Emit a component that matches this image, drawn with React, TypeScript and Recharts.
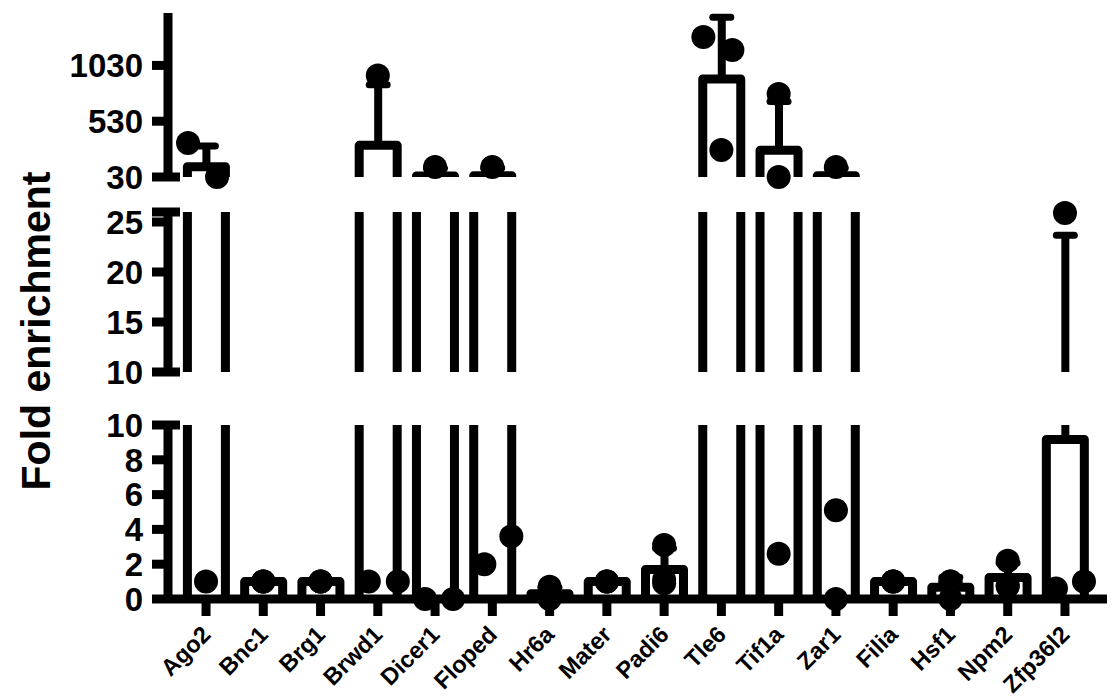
import React from 'react';
import { ComposedChart, Bar, Scatter, XAxis, YAxis } from 'recharts';

// ---------- data ----------
const CATEGORIES = ['Ago2', 'Bnc1', 'Brg1', 'Brwd1', 'Dicer1', 'Floped', 'Hr6a', 'Mater', 'Padi6', 'Tle6', 'Tif1a', 'Zar1', 'Filia', 'Hsf1', 'Npm2', 'Zfp36l2'];
const MEAN = [122, 1, 1, 314, 40, 41.9, 0.3, 1, 1.7, 908, 269, 41.7, 1, 0.67, 1.23, 9.17];
const SD = [185, 0, 0, 542, 69, 67.7, 0.36, 0, 1.22, 554, 438, 67.9, 0, 0.58, 0.84, 14.5];
const REP_1 = [1, 1, 1, 1, 0, 2, 0, 1, 0.9, 272, 2.6, 0, 1, 0, 0.75, 0.6];
const REP_2 = [30, 1, 1, 1, 0, 3.6, 0.2, 1, 1.1, 1168, 30, 5.1, 1, 1, 0.75, 1.0];
const REP_3 = [335, 1, 1, 940, 120, 120, 0.7, 1, 3.1, 1284, 774, 120, 1, 1, 2.2, 25.9];

const TOP_TICKS = [30, 530, 1030];
const MID_TICKS = [10, 15, 20, 25, 26];
const LOW_TICKS = [0, 2, 4, 6, 8, 10];

// ---------- style constants ----------
// horizontal pixel nudges of the replicate dots (scatter spread as in the original)
const NUDGE_1 = [0, 0, 0, -9, -10, -8, 0, 0, 0, 0, 0, 0, 0, 0, 0, -9];
const NUDGE_2 = [11, 0, 0, 20, 18, 19, 0, 0, 0, 11, 0, 0, 0, 0, 0, 19];
const NUDGE_3 = [-18, 0, 0, 0, 0, 0, 0, 0, 0, -18, 0, 0, 0, 0, 0, 0];
const NUDGES = [NUDGE_1, NUDGE_2, NUDGE_3];

const FONT = 'Liberation Sans, Arial, Helvetica, sans-serif';
const INK = '#000';
const CHART_W = 1112;
const M_LEFT = 8;
const M_RIGHT = 5;
const Y_W = 160;

type Seg = {
  key: string;
  top: number;
  height: number;
  marginTop: number;
  marginBottom: number;
  xHeight: number;
  domain: [number, number];
  ticks: number[];
  caps: number[];
  noLabel: number[];
  showX: boolean;
  inSeg: (v: number) => boolean;
};

const SEGMENTS: Seg[] = [
  { key: 'top', top: 0, height: 200, marginTop: 13, marginBottom: 23, xHeight: 0, domain: [30, 1500], ticks: TOP_TICKS, caps: [30], noLabel: [], showX: false, inSeg: (v) => v >= 30 },
  { key: 'mid', top: 190, height: 200, marginTop: 22, marginBottom: 18, xHeight: 0, domain: [10, 26], ticks: MID_TICKS, caps: [10, 26], noLabel: [26], showX: false, inSeg: (v) => v > 10 && v <= 26 },
  { key: 'low', top: 400, height: 296, marginTop: 25, marginBottom: 0, xHeight: 97, domain: [0, 10], ticks: LOW_TICKS, caps: [10], noLabel: [], showX: true, inSeg: (v) => v <= 10 },
];

const fin = (n: any) => typeof n === 'number' && Number.isFinite(n);

function makeOpenBar(seg: Seg) {
  const [lo, hi] = seg.domain;
  return (p: any) => {
    const { x, y, width, height, payload } = p;
    if (![x, y, width, height].every(fin) || !payload) return <g />;
    const m = payload.mean;
    if (m <= lo) return <g />;
    const b = y + height;
    const d = m > hi
      ? `M${x},${b} L${x},${y} M${x + width},${y} L${x + width},${b}`
      : `M${x},${b} L${x},${y} L${x + width},${y} L${x + width},${b}`;
    return (
      <g clipPath={`url(#plotclip-${seg.key})`}>
        <path d={d} fill="none" stroke={INK} strokeWidth={9} strokeLinejoin="round" />
      </g>
    );
  };
}

function makeErr(seg: Seg) {
  const [lo, hi] = seg.domain;
  return (p: any) => {
    const { x, y, width, height, payload } = p;
    if (![x, y, width, height].every(fin) || !payload || height <= 0) return <g />;
    const topV = payload.mean + payload.sd;
    if (topV <= lo) return <g />;
    const cx = x + width / 2;
    return (
      <g>
        <line x1={cx} x2={cx} y1={y + height} y2={y} stroke={INK} strokeWidth={8} />
        {topV <= hi && (
          <line x1={cx - 9} x2={cx + 9} y1={y} y2={y} stroke={INK} strokeWidth={7} strokeLinecap="round" />
        )}
      </g>
    );
  };
}

function makeDot(nudge: number[]) {
  return (p: any) => {
    const { cx, cy, payload } = p;
    if (!fin(cx) || !fin(cy) || !payload) return <g />;
    const i = CATEGORIES.indexOf(payload.name);
    return <circle cx={cx + (nudge[i] || 0)} cy={cy} r={12} fill={INK} />;
  };
}

function makeYTick(seg: Seg) {
  return (p: any) => {
    const { x, y, payload } = p;
    const v = payload.value;
    const isCap = seg.caps.includes(v);
    return (
      <g>
        <line x1={x} x2={x + 16 + (isCap ? 12 : 0)} y1={y} y2={y} stroke={INK} strokeWidth={9} />
        {!seg.noLabel.includes(v) && (
          <text x={x - 9} y={y} dy="0.36em" textAnchor="end" fontSize={33} fontWeight="bold" fontFamily={FONT} fill={INK}>
            {v}
          </text>
        )}
      </g>
    );
  };
}

function XTick(p: any) {
  const { x, y, payload } = p;
  const ax = x + 6;
  const ay = y + 20;
  return (
    <text
      x={ax}
      y={ay}
      transform={`rotate(-45 ${ax} ${ay})`}
      textAnchor="end"
      fontSize={23.5}
      fontWeight="bold"
      fontFamily={FONT}
      fill={INK}
    >
      {payload.value}
    </text>
  );
}

function Segment({ seg }: { seg: Seg }) {
  const data = CATEGORIES.map((name, i) => ({
    name,
    mean: MEAN[i],
    sd: SD[i],
    d1: seg.inSeg(REP_1[i]) ? REP_1[i] : null,
    d2: seg.inSeg(REP_2[i]) ? REP_2[i] : null,
    d3: seg.inSeg(REP_3[i]) ? REP_3[i] : null,
  }));
  return (
    <div style={{ position: 'absolute', left: 0, top: seg.top }}>
      <ComposedChart
        width={CHART_W}
        height={seg.height}
        data={data}
        margin={{ top: seg.marginTop, right: M_RIGHT, bottom: seg.marginBottom, left: M_LEFT }}
      >
        <XAxis
          dataKey="name"
          type="category"
          hide={!seg.showX}
          allowDuplicatedCategory={false}
          padding={{ left: 9.4, right: 13.4 }}
          axisLine={{ stroke: INK, strokeWidth: 9 }}
          tickLine={{ stroke: INK, strokeWidth: 9 }}
          tickSize={17}
          tickMargin={0}
          interval={0}
          height={seg.showX ? seg.xHeight : 0}
          tick={XTick}
        />
        <YAxis
          yAxisId="bars"
          type="number"
          domain={seg.domain}
          allowDataOverflow
          ticks={seg.ticks}
          interval={0}
          width={Y_W}
          axisLine={{ stroke: INK, strokeWidth: 9 }}
          tickLine={false}
          tickSize={16}
          tickMargin={0}
          tick={makeYTick(seg)}
        />
        <YAxis yAxisId="dots" type="number" domain={seg.domain} hide />
        <Bar yAxisId="bars" dataKey="mean" stackId="s" barSize={38} shape={makeOpenBar(seg)} isAnimationActive={false} />
        <Bar yAxisId="bars" dataKey="sd" stackId="s" barSize={38} shape={makeErr(seg)} isAnimationActive={false} />
        {['d1', 'd2', 'd3'].map((k, j) => (
          <Scatter key={k} yAxisId="dots" dataKey={k} shape={makeDot(NUDGES[j])} isAnimationActive={false} />
        ))}
      </ComposedChart>
    </div>
  );
}

export default function App() {
  return (
    <div style={{ position: 'absolute', left: 0, top: 0, width: 1112, height: 696, background: '#fff', overflow: 'hidden' }}>
      <svg width={0} height={0} style={{ position: 'absolute', left: 0, top: 0 }}>
        <defs>
          {SEGMENTS.map((s) => (
            <clipPath key={s.key} id={`plotclip-${s.key}`} clipPathUnits="userSpaceOnUse">
              <rect
                x={M_LEFT + Y_W}
                y={s.marginTop}
                width={CHART_W - M_LEFT - Y_W - M_RIGHT}
                height={s.height - s.marginTop - s.marginBottom - s.xHeight}
              />
            </clipPath>
          ))}
        </defs>
      </svg>
      {SEGMENTS.map((s) => (
        <Segment key={s.key} seg={s} />
      ))}
      <svg style={{ position: 'absolute', left: 0, top: 0 }} width={90} height={696}>
        <text
          x={50}
          y={331}
          transform="rotate(-90 50 331)"
          textAnchor="middle"
          fontSize={41}
          fontWeight="bold"
          fontFamily={FONT}
          fill={INK}
        >
          Fold enrichment
        </text>
      </svg>
    </div>
  );
}
